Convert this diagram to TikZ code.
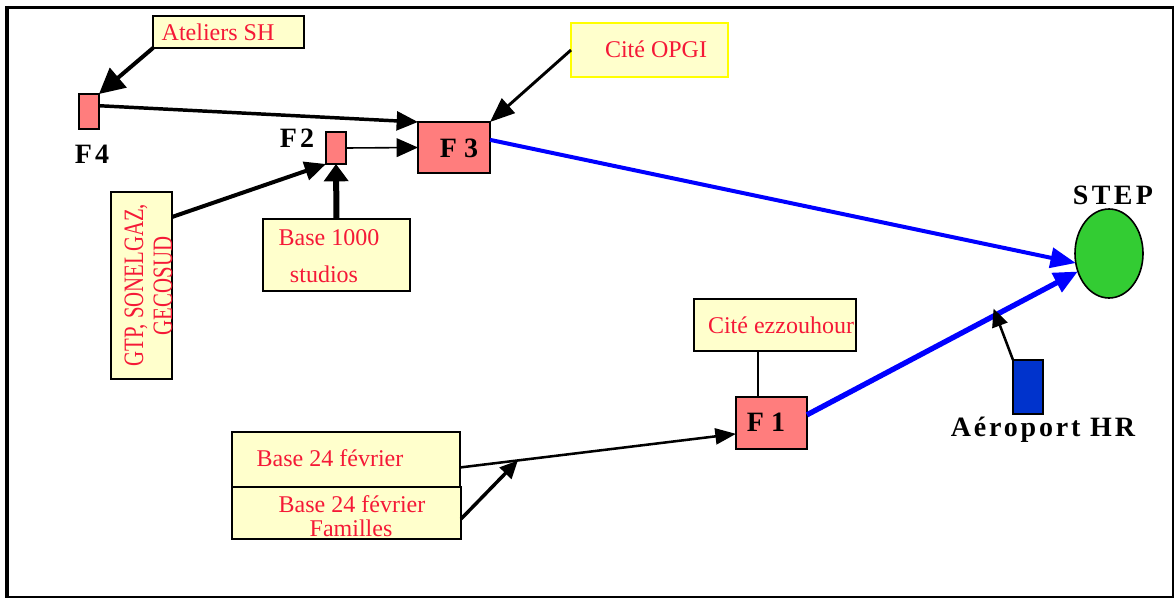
\documentclass[tikz,border=0pt]{standalone}
\usepackage{fontspec}
\setmainfont{Liberation Serif}
\usetikzlibrary{arrows.meta,calc,shapes.geometric}
\definecolor{paper}{RGB}{255,255,204}
\definecolor{salmon}{RGB}{255,125,125}
\definecolor{txtred}{RGB}{245,25,55}
\definecolor{flowblue}{RGB}{0,0,255}
\definecolor{stepgreen}{RGB}{51,204,51}
\definecolor{airblue}{RGB}{0,51,204}
\definecolor{opgiyellow}{RGB}{255,255,0}
\tikzset{
  srcbox/.style={draw=black, fill=paper, line width=1.5pt, inner sep=0pt, outer sep=0pt},
  stationbox/.style={draw=black, fill=salmon, line width=1.5pt, inner sep=0pt, outer sep=0pt},
  redtxt/.style={text=txtred, font=\fontsize{18}{21}\selectfont, anchor=base, inner sep=0pt},
  boldlbl/.style={font=\fontsize{21}{24}\selectfont\bfseries, anchor=base, inner sep=0pt},
  spacedlbl/.style={font=\fontsize{21}{24}\selectfont\bfseries\addfontfeature{LetterSpace=12}, anchor=base, inner sep=0pt},
  vtxt/.style={text=txtred, font=\fontsize{15.6}{17}\selectfont, anchor=base, inner sep=0pt, rotate=90},
}
\begin{document}
\begin{tikzpicture}[x=0.75pt,y=-0.75pt]
\useasboundingbox (0,0) rectangle (1176,599);
\fill[white] (0,0) rectangle (1176,599);

% outer frame
\draw[line width=3pt] (7,6) -- (7,598);
\draw[line width=2.6pt] (5,7.5) -- (1174,7.5);
\draw[line width=1.2pt] (1173,6) -- (1173,598);
\draw[line width=1.5pt] (5,597) -- (1174,597);

% source boxes
\node[srcbox, minimum width=113.25pt, minimum height=24pt] (ate) at (228.5,32) {};
\node[srcbox, draw=opgiyellow, minimum width=117.75pt, minimum height=40.5pt] (opgi) at (649.5,50) {};
\node[srcbox, minimum width=45.75pt, minimum height=140.25pt] (gtp) at (141.5,285.5) {};
\node[srcbox, minimum width=110.25pt, minimum height=54pt] (bmil) at (336.5,255) {};
\node[srcbox, minimum width=171pt, minimum height=41.25pt] (bfa) at (346,459.5) {};
\node[srcbox, minimum width=171.75pt, minimum height=39pt] (bfb) at (346.5,513) {};
\node[srcbox, minimum width=121.5pt, minimum height=39pt] (ezz) at (775,325) {};

% stations
\node[stationbox, minimum width=15pt, minimum height=26.25pt] (f4) at (89,111.5) {};
\node[stationbox, minimum width=15pt, minimum height=24pt] (f2) at (336,148) {};
\node[stationbox, minimum width=54pt, minimum height=38.25pt] (f3) at (454,147.5) {};
\node[stationbox, minimum width=53.25pt, minimum height=39pt] (f1) at (771.5,423) {};
\node[draw=black, fill=airblue, line width=1.5pt, inner sep=0pt, outer sep=0pt, minimum width=22.5pt, minimum height=40.5pt] (aer) at (1028,387) {};
\node[ellipse, draw=black, fill=stepgreen, line width=1.2pt, inner sep=0pt, outer sep=0pt, minimum width=51pt, minimum height=66.75pt] (step) at (1109,253.5) {};

% texts
\node[redtxt] (tate) at (218,41) {Ateliers SH};
\node[redtxt] (topgi) at (656,58) {Cité OPGI};
\node[redtxt] (tmila) at (329,245) {Base 1000};
\node[redtxt] (tmilb) at (324,282) {studios};
\node[redtxt] (tezz) at (781,333) {Cité ezzouhour};
\node[redtxt] (tbfa) at (330,466) {Base 24 février};
\node[redtxt] (tbfb) at (352,512) {Base 24 février};
\node[redtxt] (tbfc) at (351,536) {Familles};
\node[vtxt] (tgtpa) at (143,285) {\scalebox{1}[1.35]{GTP, SONELGAZ,}};
\node[vtxt] (tgtpb) at (172,286) {\scalebox{1}[1.35]{GECOSUD}};

\node[spacedlbl] (lf4) at (92,163) {F4};
\node[spacedlbl] (lf2) at (297,147) {F2};
\node[boldlbl] (lf3) at (459,157) {F 3};
\node[boldlbl] (lf1) at (766,431) {F 1};
\node[spacedlbl] (lstep) at (1113,204) {STEP};
\node[spacedlbl, font=\fontsize{21}{24}\selectfont\bfseries\addfontfeature{LetterSpace=10}] (laer) at (1043,436) {Aéroport HR};

% connectors
\draw[line width=3pt, -{Triangle[length=19pt,width=19pt]}] (ate.south west) -- (f4.north east);
\draw[line width=2.6pt, -{Triangle[length=16pt,width=14pt]}] (f4.30) -- (f3.north west);
\draw[line width=1.2pt, -{Triangle[length=16pt,width=14pt]}] (f2.east) -- (f3.west);
\draw[line width=3pt, -{Triangle[length=16pt,width=14pt]}] (gtp.66) -- (f2.south west);
\draw[line width=4.5pt, -{Triangle[length=13pt,width=18pt]}] (bmil.north) -- (f2.south);
\draw[line width=2.2pt, -{Triangle[length=18.5pt,width=14.5pt]}] (opgi.west) -- (f3.north east);
\draw[flowblue, line width=3pt, -{Triangle[length=19pt,width=15pt]}] (f3.12) -- (step.196);
\draw[flowblue, line width=4pt, -{Triangle[length=18pt,width=15.5pt]}] (f1.13) -- (step.210);
\draw[line width=1.5pt] ([xshift=-12.75pt]ezz.south) -- ([xshift=-10.125pt]f1.north);
\draw[line width=1.9pt, -{Triangle[length=15.5pt,width=12pt]}] (bfa.-4) -- (f1.197);
\coordinate (bfjoin) at ($(bfa.-4)!0.21!(f1.197)$);
\draw[line width=2.6pt, -{Triangle[length=13.5pt,width=12pt]}] (bfb.-3) -- (bfjoin);
\coordinate (aerjoin) at ($(f1.13)!0.685!(step.210)+(1,-8)$);
\draw[line width=1.9pt, -{Triangle[length=13.5pt,width=12pt]}] (aer.north west) -- (aerjoin);
\end{tikzpicture}
\end{document}
